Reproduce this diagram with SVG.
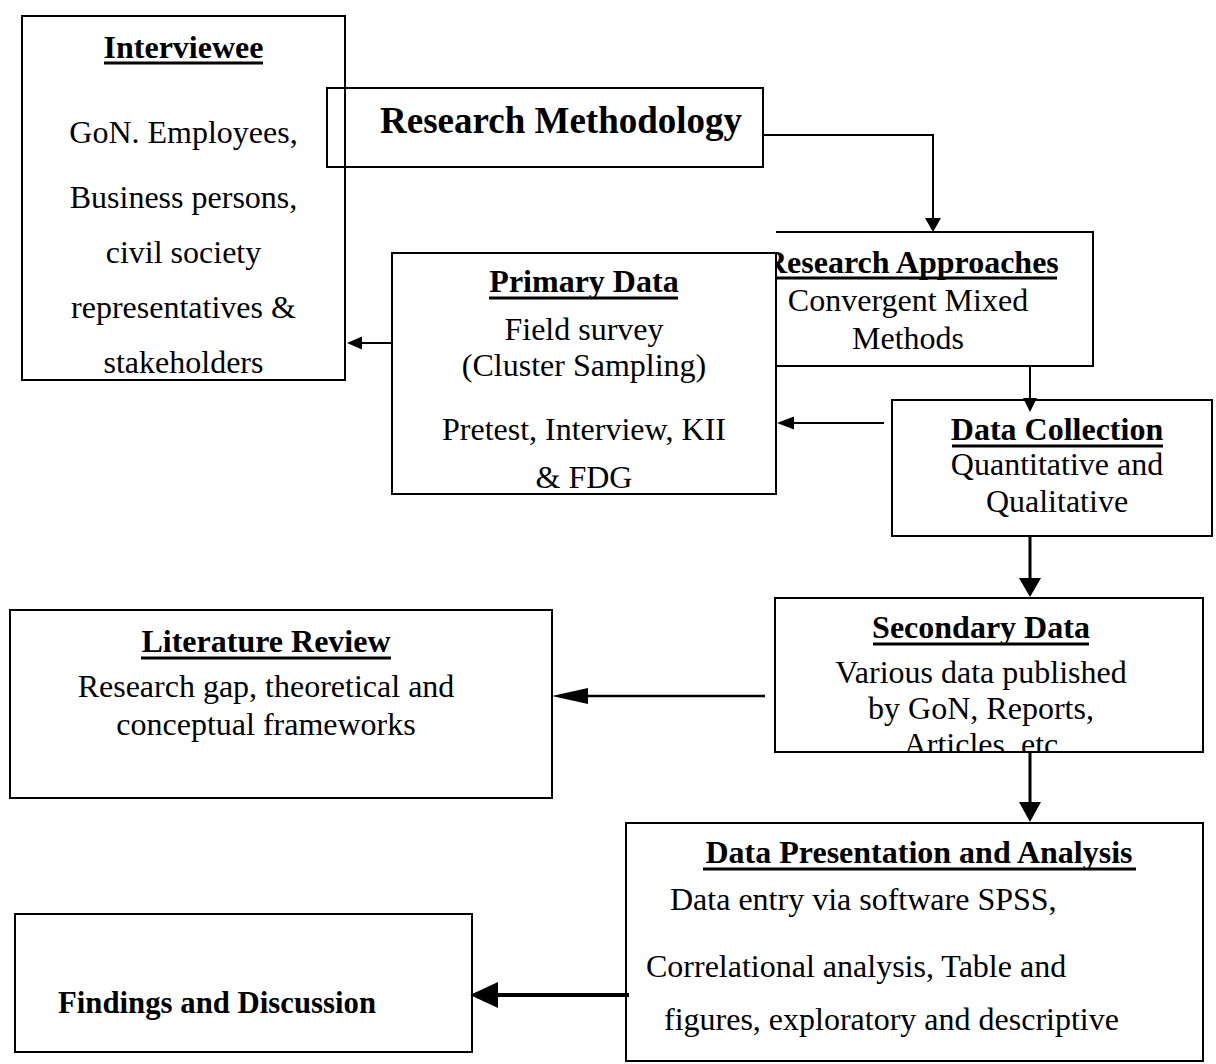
<svg xmlns="http://www.w3.org/2000/svg" width="1216" height="1064" viewBox="0 0 1216 1064">
<style>
.box{fill:none;stroke:#000;stroke-width:2}
.t{font-family:"Liberation Serif","Times New Roman",serif;font-size:32px;fill:#000}
.b{font-weight:bold}
.c{text-anchor:middle}
.ul{stroke:#000;stroke-width:3}
.ln{fill:none;stroke:#000;stroke-width:2}
.ah{fill:#000;stroke:none}
</style>
<defs>
<clipPath id="clipRA"><rect x="777" y="225" width="330" height="150"/></clipPath>
<clipPath id="clipSD"><rect x="770" y="590" width="440" height="162"/></clipPath>
</defs>
<rect width="1216" height="1064" fill="#fff"/>

<g id="interviewee">
<rect class="box" x="22" y="16" width="323" height="364"/>
<text class="t b c" x="183.5" y="58">Interviewee</text>
<line class="ul" x1="104" y1="63" x2="263" y2="63"/>
<text class="t c" x="183.5" y="143">GoN. Employees,</text>
<text class="t c" x="183.5" y="208">Business persons,</text>
<text class="t c" x="183.5" y="263">civil society</text>
<text class="t c" x="183.5" y="318">representatives &amp;</text>
<text class="t c" x="183.5" y="373">stakeholders</text>
</g>

<g id="research-methodology">
<rect class="box" x="327" y="88" width="436" height="79"/>
<text class="t b" x="380" y="133" style="font-size:37px">Research Methodology</text>
</g>

<g id="research-approaches">
<path class="ln" d="M776,232 H1093 V366 H776"/>
<g clip-path="url(#clipRA)">
<text class="t b" x="764" y="273">Research Approaches</text>
<line class="ul" x1="764" y1="278" x2="1057" y2="278"/>
</g>
<text class="t c" x="908" y="311">Convergent Mixed</text>
<text class="t c" x="908" y="349">Methods</text>
</g>

<g id="primary-data">
<rect class="box" x="392" y="253" width="384" height="241"/>
<text class="t b c" x="584" y="292">Primary Data</text>
<line class="ul" x1="489" y1="298" x2="678" y2="298"/>
<text class="t c" x="584" y="340">Field survey</text>
<text class="t c" x="584" y="376">(Cluster Sampling)</text>
<text class="t c" x="584" y="440">Pretest, Interview, KII</text>
<text class="t c" x="584" y="488">&amp; FDG</text>
</g>

<g id="data-collection">
<rect class="box" x="892" y="400" width="320" height="136"/>
<text class="t b c" x="1057" y="440">Data Collection</text>
<line class="ul" x1="952" y1="446" x2="1163" y2="446"/>
<text class="t c" x="1057" y="475">Quantitative and</text>
<text class="t c" x="1057" y="512">Qualitative</text>
</g>

<g id="secondary-data">
<rect class="box" x="775" y="598" width="428" height="154"/>
<text class="t b c" x="981" y="638">Secondary Data</text>
<line class="ul" x1="873" y1="644" x2="1089" y2="644"/>
<text class="t c" x="981" y="683">Various data published</text>
<text class="t c" x="981" y="719">by GoN, Reports,</text>
<g clip-path="url(#clipSD)"><text class="t c" x="981" y="755">Articles, etc</text></g>
</g>

<g id="literature-review">
<rect class="box" x="10" y="610" width="542" height="188"/>
<text class="t b c" x="266" y="652">Literature Review</text>
<line class="ul" x1="141" y1="658" x2="391" y2="658"/>
<text class="t c" x="266" y="697">Research gap, theoretical and</text>
<text class="t c" x="266" y="735">conceptual frameworks</text>
</g>

<g id="data-presentation">
<rect class="box" x="626" y="823" width="577" height="238"/>
<text class="t b c" x="919" y="863">Data Presentation and Analysis</text>
<line class="ul" x1="703" y1="869" x2="1136" y2="869"/>
<text class="t" x="670" y="910">Data entry via software SPSS,</text>
<text class="t" x="646" y="977">Correlational analysis, Table and</text>
<text class="t" x="664" y="1030">figures, exploratory and descriptive</text>
</g>

<g id="findings">
<rect class="box" x="15" y="914" width="457" height="138"/>
<text class="t b" x="58" y="1013" textLength="318" lengthAdjust="spacingAndGlyphs">Findings and Discussion</text>
</g>

<g id="connectors">
<path class="ln" d="M763,135 H933 V220"/>
<polygon class="ah" points="925,218 941,218 933,232"/>

<line class="ln" x1="392" y1="343" x2="358" y2="343"/>
<polygon class="ah" points="347,343 362,336.5 362,349.5"/>

<line class="ln" x1="1030" y1="366" x2="1030" y2="400"/>
<polygon class="ah" points="1023,398 1037,398 1030,412"/>

<line class="ln" x1="884" y1="423" x2="790" y2="423"/>
<polygon class="ah" points="777,423 794,416.5 794,429.5"/>

<line class="ln" x1="1030" y1="537" x2="1030" y2="580" style="stroke-width:3"/>
<polygon class="ah" points="1019,578 1041,578 1030,597"/>

<line class="ln" x1="765" y1="696" x2="585" y2="696" style="stroke-width:2.5"/>
<polygon class="ah" points="552,696 588,688 588,704"/>

<line class="ln" x1="1030" y1="752" x2="1030" y2="805" style="stroke-width:3"/>
<polygon class="ah" points="1019,802 1041,802 1030,822"/>

<line class="ln" x1="629" y1="995" x2="494" y2="995" style="stroke-width:4"/>
<polygon class="ah" points="470,995 498,982 498,1008"/>
</g>
</svg>
